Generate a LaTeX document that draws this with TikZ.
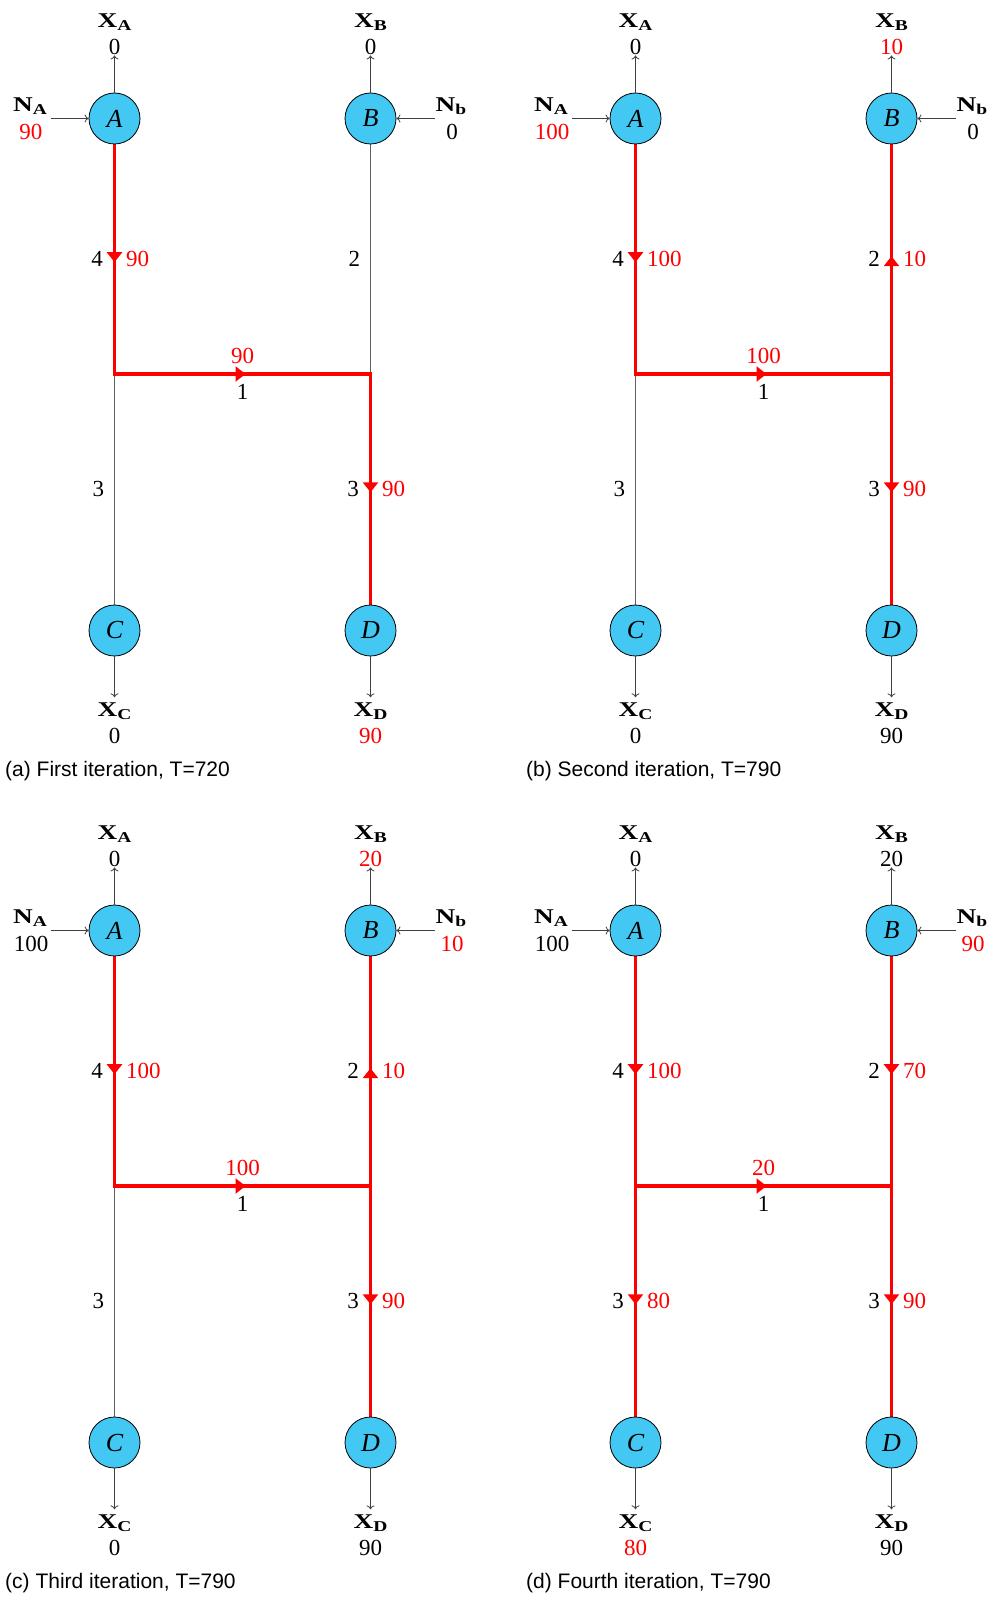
\documentclass[tikz,border=0pt]{standalone}
\usepackage{fontspec}
\setmainfont{Liberation Serif}
\setsansfont{Liberation Sans}
\usetikzlibrary{arrows.meta,decorations.markings}
\pgfdeclarelayer{background}
\pgfsetlayers{background,main}

\definecolor{nodefill}{RGB}{66,200,242}
\definecolor{flowred}{RGB}{255,0,0}
\definecolor{pipegray}{RGB}{95,95,95}

% label with a wide bold letter and its subscript
\newcommand\lab[2]{\scalebox{1.3}[1]{\fontsize{21}{24}\selectfont\bfseries #1\raisebox{-0.32ex}{\fontsize{15}{15}\selectfont\bfseries #2}}}
\newcommand\hot[1]{\textcolor{flowred}{#1}}

\tikzset{
  x=1pt, y=-1pt,
  every node/.style={font=\fontsize{23}{26}\selectfont, inner sep=0pt},
  station/.style={circle, draw=black, line width=0.8pt, fill=nodefill,
    minimum size=51pt, font=\fontsize{26}{28}\selectfont\itshape},
  pipe/.style={draw=pipegray, line width=0.9pt},
  flow/.style={draw=flowred, line width=3.2pt, line cap=rect, postaction={decorate},
    decoration={markings, mark=at position 0.5 with
      {\arrow[flowred,xshift=3pt]{Triangle[width=15pt,length=10pt]}}}},
  io/.style={draw=black!75, line width=0.8pt, -{To[length=4pt,width=8pt]}},
  wl/.style={left=10pt, text=black},
  vr/.style={right=10pt, text=flowred},
  va/.style={above=9pt, text=flowred},
  wb/.style={below=9pt, text=black},
  captext/.style={font=\sffamily\fontsize{21}{24}\selectfont, anchor=west},
}

% stations, junctions, supply/demand labels of one network
% #1 X_A, #2 X_B, #3 N_A, #4 N_b, #5 X_C, #6 X_D, #7 caption
\newcommand\panelbase[7]{%
  \node[station] (A) at (114.5,118.5) {A};
  \node[station] (B) at (370.5,118.5) {B};
  \node[station] (C) at (114.5,630.5) {C};
  \node[station] (D) at (370.5,630.5) {D};
  \coordinate (J1) at (114.5,374);
  \coordinate (J2) at (370.5,374);
  % outputs at the top
  \node (XAn) at (114.5,22) {\lab{X}{A}};
  \node (XAv) at (114.5,46.5) {#1};
  \node (XBn) at (370.5,22) {\lab{X}{B}};
  \node (XBv) at (370.5,46.5) {#2};
  \draw[io, shorten >=1pt] (A) -- (XAv);
  \draw[io, shorten >=1pt] (B) -- (XBv);
  % inputs
  \node (NAn) at (30,106) {\lab{N}{A}};
  \node (NAv) at (31,132) {#3};
  \coordinate (NAs) at (51,118.5);
  \draw[io] (NAs) -- (A);
  \node (Nbn) at (451,106) {\lab{N}{b}};
  \node (Nbv) at (452,132) {#4};
  \coordinate (Nbs) at (435,118.5);
  \draw[io] (Nbs) -- (B);
  % outputs at the bottom
  \node (XCn) at (114.5,711) {\lab{X}{C}};
  \node (XCv) at (114.5,736) {#5};
  \node (XDn) at (370.5,711) {\lab{X}{D}};
  \node (XDv) at (370.5,736) {#6};
  \draw[io, shorten >=5pt] (C) -- (XCn);
  \draw[io, shorten >=5pt] (D) -- (XDn);
  \node[captext] (title) at (5,771) {#7};
}

\begin{document}
\begin{tikzpicture}
\useasboundingbox (0,0) rectangle (994,1597);

% (a)
\begin{scope}[shift={(0,0)}, name prefix=a-]
  \panelbase{0}{0}{\hot{90}}{0}{0}{\hot{90}}{(a) First iteration, T=720}
  \begin{pgfonlayer}{background}
    \draw[pipe] (B) -- node[wl]{2} (J2);
    \draw[pipe] (J1) -- node[wl]{3} (C);
    \draw[flow] (A) -- node[wl]{4} node[vr]{90} (J1);
    \draw[flow] (J1) -- node[va]{90} node[wb]{1} (J2);
    \draw[flow] (J2) -- node[wl]{3} node[vr]{90} (D);
  \end{pgfonlayer}
\end{scope}

% (b)
\begin{scope}[shift={(521,0)}, name prefix=b-]
  \panelbase{0}{\hot{10}}{\hot{100}}{0}{0}{90}{(b) Second iteration, T=790}
  \begin{pgfonlayer}{background}
    \draw[pipe] (J1) -- node[wl]{3} (C);
    \draw[flow] (A) -- node[wl]{4} node[vr]{100} (J1);
    \draw[flow] (J2) -- node[wl]{2} node[vr]{10} (B);
    \draw[flow] (J1) -- node[va]{100} node[wb]{1} (J2);
    \draw[flow] (J2) -- node[wl]{3} node[vr]{90} (D);
  \end{pgfonlayer}
\end{scope}

% (c)
\begin{scope}[shift={(0,812)}, name prefix=c-]
  \panelbase{0}{\hot{20}}{100}{\hot{10}}{0}{90}{(c) Third iteration, T=790}
  \begin{pgfonlayer}{background}
    \draw[pipe] (J1) -- node[wl]{3} (C);
    \draw[flow] (A) -- node[wl]{4} node[vr]{100} (J1);
    \draw[flow] (J2) -- node[wl]{2} node[vr]{10} (B);
    \draw[flow] (J1) -- node[va]{100} node[wb]{1} (J2);
    \draw[flow] (J2) -- node[wl]{3} node[vr]{90} (D);
  \end{pgfonlayer}
\end{scope}

% (d)
\begin{scope}[shift={(521,812)}, name prefix=d-]
  \panelbase{0}{20}{100}{\hot{90}}{\hot{80}}{90}{(d) Fourth iteration, T=790}
  \begin{pgfonlayer}{background}
    \draw[flow] (A) -- node[wl]{4} node[vr]{100} (J1);
    \draw[flow] (B) -- node[wl]{2} node[vr]{70} (J2);
    \draw[flow] (J1) -- node[va]{20} node[wb]{1} (J2);
    \draw[flow] (J1) -- node[wl]{3} node[vr]{80} (C);
    \draw[flow] (J2) -- node[wl]{3} node[vr]{90} (D);
  \end{pgfonlayer}
\end{scope}
\end{tikzpicture}
\end{document}
